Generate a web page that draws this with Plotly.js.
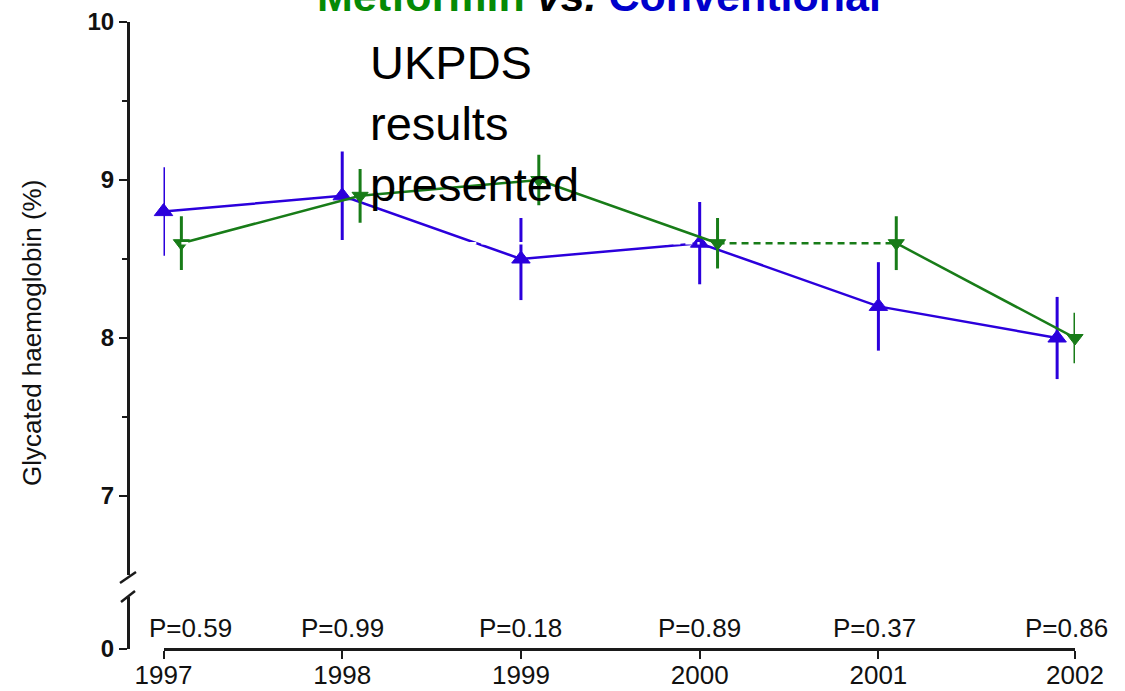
<!DOCTYPE html>
<html>
<head>
<meta charset="utf-8">
<script src="https://cdn.plot.ly/plotly-3.0.1.min.js"></script>
<style>
  html, body { margin: 0; padding: 0; background: #fff; }
  #chart { width: 1125px; height: 691px; }
</style>
</head>
<body>
<div id="chart"></div>
<script>
// Glycated haemoglobin by year, metformin vs. conventional therapy
const years = [1997, 1998, 1999, 2000, 2001, 2002];
const yearLabels = ['1997', '1998', '1999', '2000', '2001', '2002'];

const conventionalHbA1c = [8.8, 8.9, 8.5, 8.6, 8.2, 8.0];
const conventionalErr   = [0.28, 0.28, 0.26, 0.26, 0.28, 0.26];

const metforminHbA1c = [8.6, 8.9, 9.0, 8.6, 8.6, 8.0];
const metforminErr   = [0.17, 0.17, 0.16, 0.16, 0.17, 0.16];

const pValues = ['P=0.59', 'P=0.99', 'P=0.18', 'P=0.89', 'P=0.37', 'P=0.86'];

const noteText = 'UKPDS<br>results<br>presented';

// ---- layout helpers (pixel -> paper) ----
const W = 1125, H = 691;
const M = { l: 128, r: 50, t: 22, b: 42 };
const PW = W - M.l - M.r, PH = H - M.t - M.b;
const px = x => (x - M.l) / PW;
const py = y => (H - M.b - y) / PH;

const FONT = 'Liberation Sans, Arial, Helvetica, sans-serif';
const BLUE = '#2b00dc';
const GREEN = '#187c18';
const AXIS = '#1a1a1a';

// metformin points are dodged slightly to the right of each year
const dodge = 0.1;
const metX = years.map(y => y + dodge);

const traces = [];

// conventional: line, markers and error bars
traces.push({
  x: years, y: conventionalHbA1c,
  type: 'scatter', mode: 'lines+markers',
  line: { color: BLUE, width: 2.5 },
  marker: { symbol: 'triangle-up', size: 16, color: BLUE, line: { color: BLUE, width: 1 } },
  error_y: { type: 'data', array: conventionalErr, visible: true, color: BLUE, thickness: 3, width: 0 },
  cliponaxis: false, showlegend: false, hoverinfo: 'x+y'
});

// metformin: connecting segments (2000 -> 2001 dashed)
const segs = [
  { from: 0, to: 3, dash: 'solid' },
  { from: 3, to: 4, dash: '7px,5px' },
  { from: 4, to: 5, dash: 'solid' }
];
segs.forEach(s => {
  traces.push({
    x: metX.slice(s.from, s.to + 1), y: metforminHbA1c.slice(s.from, s.to + 1),
    type: 'scatter', mode: 'lines',
    line: { color: GREEN, width: 2.5, dash: s.dash },
    cliponaxis: false, showlegend: false, hoverinfo: 'skip'
  });
});

// metformin markers and error bars
traces.push({
  x: metX, y: metforminHbA1c,
  type: 'scatter', mode: 'markers',
  marker: { symbol: 'triangle-down', size: 14, color: GREEN, line: { color: GREEN, width: 1 } },
  error_y: { type: 'data', array: metforminErr, visible: true, color: GREEN, thickness: 3, width: 0 },
  cliponaxis: false, showlegend: false, hoverinfo: 'x+y'
});

// faint white dashed reference at the 1997 metformin level
traces.push({
  x: [metX[0], years[3]], y: [metforminHbA1c[0], metforminHbA1c[3]],
  type: 'scatter', mode: 'lines',
  line: { color: '#ffffff', width: 2.5, dash: '7px,5px' },
  cliponaxis: false, showlegend: false, hoverinfo: 'skip'
});

// empty trace so the lower (broken) axis segment is drawn
traces.push({
  x: [], y: [], xaxis: 'x', yaxis: 'y2',
  type: 'scatter', mode: 'lines', showlegend: false, hoverinfo: 'skip'
});

const annotations = [];

// P-value labels above the x axis
const pOffsets = [0.15, 0, 0, 0, -0.02, 0.05];
pValues.forEach((t, i) => {
  annotations.push({
    text: t, xref: 'x', yref: 'paper',
    x: years[i] + pOffsets[i], y: py(628),
    xanchor: 'center', yanchor: 'middle', showarrow: false,
    font: { family: FONT, size: 26, color: '#111' }
  });
});

// heading, partly cut at the top edge
annotations.push({
  text: '<span style="color:#058a05">Metformin</span> <i>vs.</i> <span style="color:#0000cc">Conventional</span>',
  xref: 'paper', yref: 'paper', x: px(599), y: py(22),
  xanchor: 'center', yanchor: 'bottom', showarrow: false,
  font: { family: FONT, size: 43, color: '#000', weight: 'bold' }
});

// note on the timeline
annotations.push({
  text: noteText, xref: 'paper', yref: 'paper',
  x: px(368), y: py(124), xanchor: 'left', yanchor: 'middle', align: 'left',
  showarrow: false,
  font: { family: FONT, size: 47, color: '#000' }
});

// y axis title, centred over the full broken axis
annotations.push({
  text: 'Glycated haemoglobin (%)', xref: 'paper', yref: 'paper',
  x: px(32), y: py(333), textangle: -90,
  xanchor: 'center', yanchor: 'middle', showarrow: false,
  font: { family: FONT, size: 26, color: '#111' }
});

// axis break marks
const shapes = [
  { type: 'line', xref: 'paper', yref: 'paper', x0: px(120), y0: py(583), x1: px(136), y1: py(572),
    line: { color: AXIS, width: 2.5 } },
  { type: 'line', xref: 'paper', yref: 'paper', x0: px(121), y0: py(602), x1: px(135), y1: py(591),
    line: { color: AXIS, width: 2.5 } }
];

const layout = {
  width: W, height: H,
  margin: M,
  paper_bgcolor: '#fff', plot_bgcolor: '#fff',
  showlegend: false,
  font: { family: FONT, color: '#111' },
  xaxis: {
    domain: [px(163.5), 1],
    range: [years[0], years[years.length - 1] + dodge],
    anchor: 'free', position: 0,
    showline: true, linecolor: AXIS, linewidth: 2.5,
    ticks: 'outside', ticklen: 8, tickwidth: 2, tickcolor: AXIS,
    tickvals: years.slice(0, -1).concat([years[years.length - 1] + dodge]),
    ticktext: yearLabels,
    ticklabelstandoff: -6,
    tickfont: { family: FONT, size: 26, color: '#111' },
    showgrid: false, zeroline: false
  },
  yaxis: {
    domain: [py(575), 1],
    range: [6.5, 10],
    anchor: 'free', position: 0,
    showline: true, linecolor: AXIS, linewidth: 2.5,
    ticks: 'outside', ticklen: 8, tickwidth: 2, tickcolor: AXIS,
    tickvals: [7, 8, 9, 10],
    minor: { tickvals: [7.5, 8.5, 9.5], ticks: 'outside', ticklen: 5, tickwidth: 1.5, tickcolor: AXIS },
    tickfont: { family: FONT, size: 24, color: '#111', weight: 'bold' },
    showgrid: false, zeroline: false
  },
  yaxis2: {
    domain: [0, py(597)],
    range: [0, 0.33],
    anchor: 'free', position: 0,
    showline: true, linecolor: AXIS, linewidth: 2.5,
    ticks: 'outside', ticklen: 8, tickwidth: 2, tickcolor: AXIS,
    tickvals: [0], ticktext: ['0'],
    tickfont: { family: FONT, size: 24, color: '#111', weight: 'bold' },
    showgrid: false, zeroline: false
  },
  annotations: annotations,
  shapes: shapes
};

Plotly.newPlot('chart', traces, layout, { displayModeBar: false, staticPlot: true });
</script>
</body>
</html>
